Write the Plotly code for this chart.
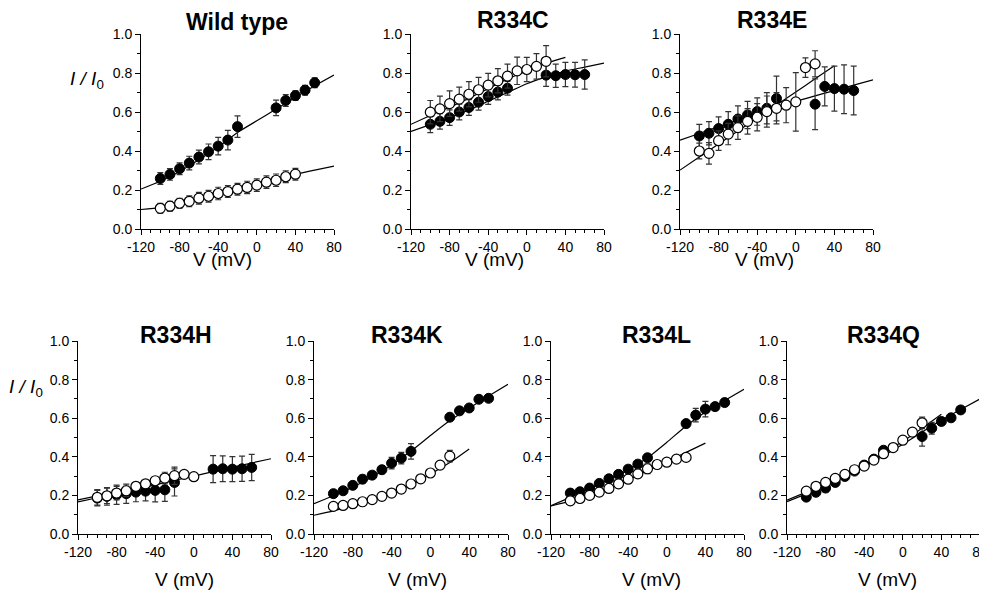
import plotly.graph_objects as go

# page body has an 8px default margin: the figure is placed at (8, 8)
OFF = 8
W, H = 979, 584

# ---------------- data ----------------
v_filled = [-100, -90, -80, -70, -60, -50, -40, -30, -20, 20, 30, 40, 50, 60]
v_open = [-100, -90, -80, -70, -60, -50, -40, -30, -20, -10, 0, 10, 20]
v_open_wt = [-100, -90, -80, -70, -60, -50, -40, -30, -20, -10, 0, 10, 20, 30, 40]
v_open_h = [-100, -90, -80, -70, -60, -50, -40, -30, -20, -10, 0]

fit_v_full = [-120, -100, -80, -60, -40, -20, 0, 20, 40, 60, 80]
fit_v_40 = [-120, -100, -80, -60, -40, -20, 0, 20, 40]
fit_v_0 = [-120, -100, -80, -60, -40, -20, 0]

x_tickvals = [-120, -80, -40, 0, 40, 80]
x_ticktext = ["-120", "-80", "-40", "0", "40", "80"]

panel_names = ["Wild type", "R334C", "R334E", "R334H", "R334K", "R334L", "R334Q"]

# Wild type
wt_filled = [0.259, 0.28, 0.309, 0.338, 0.369, 0.396, 0.425, 0.456, 0.525, 0.621, 0.659, 0.684, 0.712, 0.75]
wt_filled_err = [0.03, 0.03, 0.03, 0.035, 0.035, 0.04, 0.045, 0.05, 0.055, 0.04, 0.03, 0.025, 0.025, 0.025]
wt_open = [0.106, 0.117, 0.132, 0.142, 0.158, 0.168, 0.182, 0.192, 0.204, 0.213, 0.225, 0.24, 0.25, 0.268, 0.281]
wt_open_err = [0.025, 0.025, 0.025, 0.028, 0.03, 0.03, 0.032, 0.03, 0.03, 0.032, 0.032, 0.032, 0.032, 0.03, 0.03]
wt_fit_filled = [0.205, 0.245, 0.295, 0.355, 0.42, 0.495, 0.555, 0.615, 0.675, 0.735, 0.79]
wt_fit_open = [0.10, 0.11, 0.13, 0.155, 0.18, 0.205, 0.225, 0.25, 0.28, 0.302, 0.322]

# R334C
c_filled = [0.537, 0.552, 0.571, 0.6, 0.623, 0.65, 0.679, 0.702, 0.722, 0.789, 0.786, 0.792, 0.791, 0.792]
c_filled_err = [0.043, 0.04, 0.04, 0.04, 0.04, 0.04, 0.04, 0.04, 0.035, 0.058, 0.06, 0.062, 0.063, 0.075]
c_open = [0.599, 0.616, 0.643, 0.666, 0.691, 0.714, 0.738, 0.76, 0.784, 0.811, 0.818, 0.834, 0.86]
c_open_err = [0.06, 0.065, 0.065, 0.062, 0.065, 0.064, 0.06, 0.062, 0.062, 0.07, 0.062, 0.065, 0.08]
c_fit_filled = [0.5, 0.535, 0.57, 0.61, 0.655, 0.7, 0.745, 0.78, 0.81, 0.83, 0.851]
c_fit_open = [0.537, 0.582, 0.625, 0.67, 0.72, 0.77, 0.81, 0.85, 0.88]

# R334E
e_filled = [0.477, 0.491, 0.515, 0.537, 0.564, 0.585, 0.602, 0.619, 0.669, 0.64, 0.731, 0.72, 0.717, 0.71]
e_filled_err = [0.06, 0.06, 0.06, 0.065, 0.067, 0.07, 0.07, 0.08, 0.115, 0.13, 0.1, 0.115, 0.125, 0.125]
e_open = [0.40, 0.388, 0.453, 0.487, 0.52, 0.552, 0.573, 0.602, 0.619, 0.635, 0.652, 0.828, 0.847]
e_open_err = [0.04, 0.055, 0.05, 0.055, 0.06, 0.065, 0.07, 0.08, 0.08, 0.09, 0.15, 0.05, 0.067]
e_fit_filled = [0.456, 0.49, 0.525, 0.558, 0.59, 0.623, 0.655, 0.683, 0.71, 0.738, 0.765]
e_fit_open = [0.302, 0.369, 0.436, 0.503, 0.57, 0.636, 0.703, 0.77, 0.837]

# R334H
h_filled = [0.186, 0.195, 0.203, 0.209, 0.217, 0.222, 0.226, 0.229, 0.267, 0.336, 0.338, 0.336, 0.338, 0.345]
h_filled_err = [0.04, 0.045, 0.05, 0.05, 0.05, 0.05, 0.06, 0.06, 0.07, 0.07, 0.067, 0.065, 0.065, 0.068]
h_open = [0.19, 0.198, 0.212, 0.224, 0.247, 0.26, 0.276, 0.29, 0.302, 0.309, 0.297]
h_open_err = [0.04, 0.04, 0.035, 0.03, 0.015, 0.012, 0.02, 0.03, 0.045, 0.01, 0.01]
h_fit_filled = [0.166, 0.188, 0.21, 0.233, 0.255, 0.278, 0.30, 0.323, 0.345, 0.368, 0.39]
h_fit_open = [0.177, 0.198, 0.22, 0.243, 0.265, 0.288, 0.31]

# R334K
k_filled = [0.209, 0.224, 0.252, 0.284, 0.305, 0.333, 0.367, 0.393, 0.428, 0.605, 0.638, 0.653, 0.698, 0.703]
k_filled_err = [0.015, 0.015, 0.015, 0.02, 0.015, 0.02, 0.03, 0.03, 0.04, 0.015, 0.012, 0.012, 0.012, 0.012]
k_open = [0.143, 0.148, 0.157, 0.167, 0.178, 0.195, 0.212, 0.233, 0.259, 0.286, 0.316, 0.357, 0.403]
k_open_err = [0.01, 0.01, 0.01, 0.01, 0.01, 0.01, 0.012, 0.012, 0.015, 0.015, 0.015, 0.02, 0.03]
k_fit_filled = [0.157, 0.198, 0.243, 0.295, 0.358, 0.43, 0.51, 0.588, 0.652, 0.715, 0.776]
k_fit_open = [0.097, 0.12, 0.148, 0.177, 0.21, 0.255, 0.31, 0.37, 0.441]

# R334L
l_filled = [0.212, 0.219, 0.238, 0.262, 0.286, 0.309, 0.336, 0.362, 0.395, 0.572, 0.616, 0.647, 0.66, 0.681]
l_filled_err = [0.015, 0.012, 0.012, 0.015, 0.015, 0.015, 0.015, 0.015, 0.015, 0.012, 0.035, 0.04, 0.02, 0.02]
l_open = [0.172, 0.184, 0.2, 0.217, 0.236, 0.26, 0.284, 0.312, 0.338, 0.36, 0.372, 0.388, 0.397]
l_open_err = [0.015, 0.015, 0.015, 0.02, 0.015, 0.02, 0.02, 0.02, 0.025, 0.02, 0.01, 0.01, 0.015]
l_fit_filled = [0.147, 0.19, 0.235, 0.282, 0.333, 0.395, 0.475, 0.56, 0.632, 0.692, 0.75]
l_fit_open = [0.145, 0.17, 0.2, 0.237, 0.28, 0.328, 0.375, 0.423, 0.471]

# R334Q
q_filled = [0.191, 0.216, 0.238, 0.267, 0.298, 0.326, 0.357, 0.388, 0.434, 0.505, 0.548, 0.583, 0.602, 0.643]
q_filled_err = [0.015, 0.02, 0.02, 0.02, 0.02, 0.015, 0.015, 0.015, 0.015, 0.05, 0.03, 0.02, 0.012, 0.012]
q_open = [0.222, 0.247, 0.267, 0.288, 0.309, 0.333, 0.352, 0.383, 0.416, 0.448, 0.486, 0.528, 0.576]
q_open_err = [0.01, 0.01, 0.01, 0.01, 0.01, 0.01, 0.01, 0.01, 0.01, 0.01, 0.01, 0.01, 0.03]
q_fit_filled = [0.168, 0.208, 0.25, 0.298, 0.35, 0.405, 0.465, 0.528, 0.59, 0.645, 0.70]
q_fit_open = [0.175, 0.217, 0.26, 0.308, 0.36, 0.418, 0.48, 0.548, 0.62]

panels = [
    (v_filled, wt_filled, wt_filled_err, v_open_wt, wt_open, wt_open_err, fit_v_full, wt_fit_filled, fit_v_full, wt_fit_open),
    (v_filled, c_filled, c_filled_err, v_open, c_open, c_open_err, fit_v_full, c_fit_filled, fit_v_40, c_fit_open),
    (v_filled, e_filled, e_filled_err, v_open, e_open, e_open_err, fit_v_full, e_fit_filled, fit_v_40, e_fit_open),
    (v_filled, h_filled, h_filled_err, v_open_h, h_open, h_open_err, fit_v_full, h_fit_filled, fit_v_0, h_fit_open),
    (v_filled, k_filled, k_filled_err, v_open, k_open, k_open_err, fit_v_full, k_fit_filled, fit_v_40, k_fit_open),
    (v_filled, l_filled, l_filled_err, v_open, l_open, l_open_err, fit_v_full, l_fit_filled, fit_v_40, l_fit_open),
    (v_filled, q_filled, q_filled_err, v_open, q_open, q_open_err, fit_v_full, q_fit_filled, fit_v_40, q_fit_open),
]

# ---------------- layout geometry (page pixels) ----------------
# (x_left, x_right, y_top(1.0), y_bottom(0.0))
boxes = [
    (141, 334, 34, 229),
    (411, 604, 34, 229),
    (680, 873, 34, 229),
    (78, 271, 341, 534),
    (314, 508, 341, 534),
    (551, 744, 341, 534),
    (787, 980, 341, 534),
]
title_pos = [(237, 22), (513, 20), (772, 20), (176, 335), (407, 335), (656, 335), (883, 335)]
xtitle_pos = [(222, 260), (494, 260), (764, 260), (184, 579), (417, 579), (651, 579), (887, 579)]
ylabel_pos = [(87, 80), (26, 388)]


def px(x):
    return (x - OFF) / W


def py(y):
    return 1 - (y - OFF) / H


FONT = "Arial, Liberation Sans, Helvetica, sans-serif"
fig = go.Figure()
layout = dict(
    width=W, height=H, autosize=False,
    margin=dict(l=0, r=0, t=0, b=0, pad=0),
    paper_bgcolor="white", plot_bgcolor="white",
    showlegend=False,
    font=dict(family=FONT, color="black", size=14),
)
annotations = []

for i, (box, p) in enumerate(zip(boxes, panels)):
    n = "" if i == 0 else str(i + 1)
    xl, xr, yt, yb = box
    xa = dict(
        domain=[px(xl), min(px(xr), 1.0)], range=[-120, 80], anchor="y" + n, automargin=False,
        showline=True, linecolor="black", linewidth=1, showgrid=False, zeroline=False,
        ticks="outside", tickmode="array", tickvals=x_tickvals, ticktext=x_ticktext,
        ticklen=5, tickcolor="black", tickwidth=1,
        ticklabeloverflow="allow",
        minor=dict(ticks="outside", dtick=10, tick0=-120, ticklen=3, tickcolor="black", tickwidth=1),
        tickfont=dict(size=14, family=FONT, color="black"),
    )
    ya = dict(
        domain=[py(yb), py(yt)], range=[0, 1], anchor="x" + n, automargin=False,
        showline=True, linecolor="black", linewidth=1, showgrid=False, zeroline=False,
        ticks="outside", tick0=0, dtick=0.2, ticklen=5, tickcolor="black", tickwidth=1,
        tickformat=".1f", ticklabeloverflow="allow",
        minor=dict(ticks="outside", dtick=0.1, tick0=0, ticklen=3, tickcolor="black", tickwidth=1),
        tickfont=dict(size=14, family=FONT, color="black"),
    )
    layout["xaxis" + n] = xa
    layout["yaxis" + n] = ya

    vf, yf, ef, vo, yo, eo, fvf, ff, fvo, fo = p
    # fit lines
    for fx, fy in ((fvf, ff), (fvo, fo)):
        fig.add_trace(go.Scatter(x=fx, y=fy, mode="lines", xaxis="x" + n, yaxis="y" + n,
                                 line=dict(color="black", width=1.2, shape="spline", smoothing=0.6),
                                 hoverinfo="skip", cliponaxis=False))
    # filled markers
    fig.add_trace(go.Scatter(x=vf, y=yf, mode="markers", xaxis="x" + n, yaxis="y" + n,
                             marker=dict(symbol="circle", size=10, color="black",
                                         line=dict(color="black", width=1)),
                             error_y=dict(type="data", array=ef, visible=True, color="#333333",
                                          thickness=1.2, width=3),
                             cliponaxis=False))
    # open markers
    fig.add_trace(go.Scatter(x=vo, y=yo, mode="markers", xaxis="x" + n, yaxis="y" + n,
                             marker=dict(symbol="circle", size=10, color="white",
                                         line=dict(color="black", width=1.2)),
                             error_y=dict(type="data", array=eo, visible=True, color="#333333",
                                          thickness=1.2, width=3),
                             cliponaxis=False))

    tx, ty = title_pos[i]
    annotations.append(dict(text="<b>" + panel_names[i] + "</b>", x=px(tx), y=py(ty),
                            xref="paper", yref="paper", xanchor="center", yanchor="middle",
                            showarrow=False, font=dict(size=23, family=FONT, color="black")))
    ax_, ay_ = xtitle_pos[i]
    annotations.append(dict(text="V (mV)", x=px(ax_), y=py(ay_),
                            xref="paper", yref="paper", xanchor="center", yanchor="middle",
                            showarrow=False, font=dict(size=19, family=FONT, color="black")))

for (lx, ly) in ylabel_pos:
    annotations.append(dict(text="<i>I / I</i><sub>0</sub>", x=px(lx), y=py(ly),
                            xref="paper", yref="paper", xanchor="center", yanchor="middle",
                            showarrow=False, font=dict(size=19, family=FONT, color="black")))

layout["annotations"] = annotations
fig.update_layout(**layout)
fig.write_html("out.html")
